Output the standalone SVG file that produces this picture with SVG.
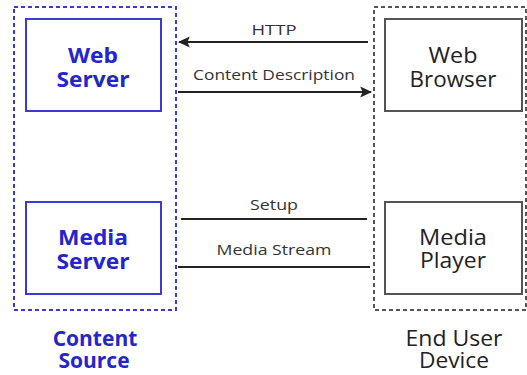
<svg xmlns="http://www.w3.org/2000/svg" width="527" height="375" viewBox="0 0 527 375">
  <defs>
    <marker id="arrow" viewBox="0 0 10 10" refX="9" refY="5" markerWidth="6" markerHeight="6" markerUnits="strokeWidth" orient="auto">
      <path d="M0,0.5 L10,5 L0,9.5 L2,5 Z" fill="#222"/>
    </marker>
    <style>
      .group-src { fill: none; stroke: #3a3ad0; stroke-width: 2; stroke-dasharray: 4 3; }
      .group-dev { fill: none; stroke: #555; stroke-width: 2; stroke-dasharray: 4 3; }
      .box-src { fill: #fff; stroke: #3a3ad8; stroke-width: 2; }
      .box-dev { fill: #fff; stroke: #555; stroke-width: 2; }
      .t-src { font-family: "Open Sans", "Liberation Sans", sans-serif; font-weight: bold; font-size: 21px; fill: #2525cc; text-anchor: middle; }
      .t-dev { font-family: "Open Sans", "Liberation Sans", sans-serif; font-size: 22px; fill: #222; text-anchor: middle; }
      .t-link { font-family: "Open Sans", "Liberation Sans", sans-serif; font-size: 15px; fill: #333; text-anchor: middle; }
      .link { stroke: #222; stroke-width: 2; fill: none; }
    </style>
  </defs>
  <rect width="527" height="375" fill="#fff"/>

  <!-- Content Source group -->
  <g id="content-source">
    <rect class="group-src" x="14" y="7" width="162" height="303"/>
    <text class="t-src" x="95" y="346">Content</text>
    <text class="t-src" x="94" y="368">Source</text>
  </g>
  <g id="web-server">
    <rect class="box-src" x="26" y="19" width="135" height="92"/>
    <text class="t-src" x="93" y="63" textLength="50" lengthAdjust="spacingAndGlyphs">Web</text>
    <text class="t-src" x="93" y="87" textLength="73" lengthAdjust="spacingAndGlyphs">Server</text>
  </g>
  <g id="media-server">
    <rect class="box-src" x="26" y="202" width="135" height="92"/>
    <text class="t-src" x="93" y="245" textLength="70" lengthAdjust="spacingAndGlyphs">Media</text>
    <text class="t-src" x="93" y="269" textLength="73" lengthAdjust="spacingAndGlyphs">Server</text>
  </g>

  <!-- End User Device group -->
  <g id="end-user-device">
    <rect class="group-dev" x="374" y="7" width="152" height="303"/>
    <text class="t-dev" x="454" y="346" textLength="97" lengthAdjust="spacingAndGlyphs">End User</text>
    <text class="t-dev" x="454" y="368" textLength="70" lengthAdjust="spacingAndGlyphs">Device</text>
  </g>
  <g id="web-browser">
    <rect class="box-dev" x="385" y="19" width="137" height="92"/>
    <text class="t-dev" x="453" y="63" textLength="49" lengthAdjust="spacingAndGlyphs">Web</text>
    <text class="t-dev" x="453" y="87" textLength="87" lengthAdjust="spacingAndGlyphs">Browser</text>
  </g>
  <g id="media-player">
    <rect class="box-dev" x="385" y="202" width="137" height="92"/>
    <text class="t-dev" x="453" y="245" textLength="68" lengthAdjust="spacingAndGlyphs">Media</text>
    <text class="t-dev" x="453" y="268" textLength="66" lengthAdjust="spacingAndGlyphs">Player</text>
  </g>

  <!-- Connectors -->
  <g id="connectors">
    <line class="link" x1="368" y1="42" x2="179" y2="42" marker-end="url(#arrow)"/>
    <text class="t-link" x="274" y="35" textLength="45" lengthAdjust="spacingAndGlyphs">HTTP</text>
    <line class="link" x1="178" y1="92" x2="371" y2="92" marker-end="url(#arrow)"/>
    <text class="t-link" x="274" y="80" textLength="162" lengthAdjust="spacingAndGlyphs">Content Description</text>
    <line class="link" x1="181" y1="219" x2="367" y2="219"/>
    <text class="t-link" x="274" y="210" textLength="48" lengthAdjust="spacingAndGlyphs">Setup</text>
    <line class="link" x1="178" y1="267" x2="370" y2="267"/>
    <text class="t-link" x="274" y="255" textLength="115" lengthAdjust="spacingAndGlyphs">Media Stream</text>
  </g>
</svg>
